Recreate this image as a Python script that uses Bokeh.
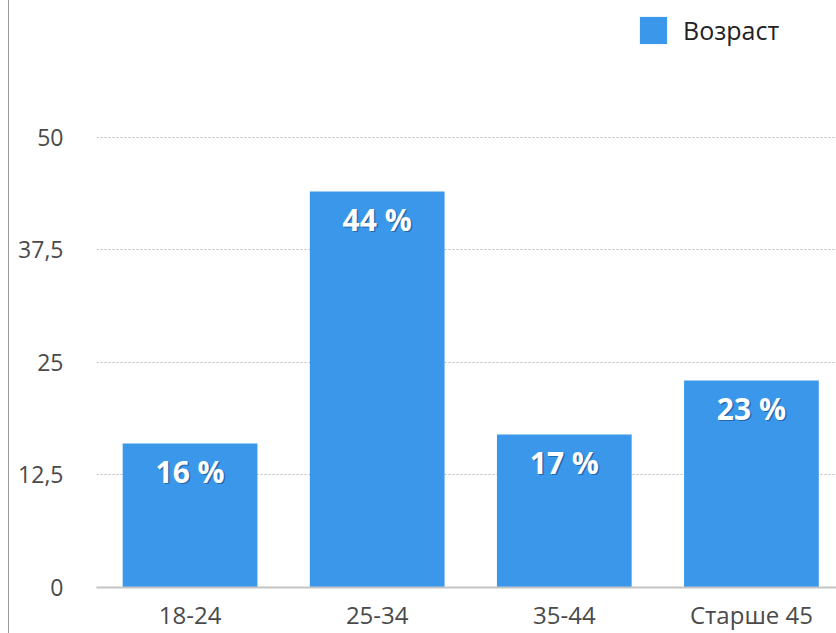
from bokeh.plotting import figure
from bokeh.models import Range1d, FixedTicker, Legend, LegendItem, ColumnDataSource
from bokeh.core.properties import value
from bokeh.embed import file_html
from bokeh.resources import INLINE

categories = ["18-24", "25-34", "35-44", "Старше 45"]
values = [16, 44, 17, 23]
value_labels = ["16 %", "44 %", "17 %", "23 %"]
y_ticks = [0, 12.5, 25, 37.5, 50]
y_tick_labels = ["0", "12,5", "25", "37,5", "50"]
series_name = "Возраст"

FONT = "Open Sans"
xs = list(range(len(categories)))
src = ColumnDataSource(dict(x=xs, top=values, lab=value_labels))

p = figure(width=828, height=633, output_backend="svg", toolbar_location=None,
           x_range=Range1d(-0.5, 3.46), y_range=Range1d(0, 64.33),
           min_border_left=87, min_border_right=0, min_border_top=8, min_border_bottom=46)
p.outline_line_color = None
p.background_fill_color = "white"
p.border_fill_color = "white"
p.styles = {"border-left": "1px solid #9a9a9a", "margin-left": "8px"}

bars = p.vbar(x="x", top="top", width=0.72, bottom=0, source=src,
              fill_color="#3a97ea", line_color=None)

p.text(x="x", y="top", text="lab", source=src, x_offset=1.5, y_offset=29.5,
       text_align="center", text_baseline="middle", text_color="#0a2a5a", text_alpha=0.45,
       text_font=value(FONT), text_font_size="30px", text_font_style="bold")
p.text(x="x", y="top", text="lab", source=src, y_offset=28,
       text_align="center", text_baseline="middle", text_color="white",
       text_font=value(FONT), text_font_size="30px", text_font_style="bold")

p.xgrid.grid_line_color = None
p.ygrid.ticker = FixedTicker(ticks=y_ticks)
p.ygrid.grid_line_color = "#bdbdbd"
p.ygrid.grid_line_dash = "2 2"

p.yaxis.ticker = FixedTicker(ticks=y_ticks)
p.yaxis.major_label_overrides = {t: l for t, l in zip(y_ticks, y_tick_labels)}
p.yaxis.axis_line_color = None
p.yaxis.major_tick_line_color = None
p.yaxis.minor_tick_line_color = None
p.yaxis.major_tick_out = 0
p.yaxis.major_tick_in = 0
p.yaxis.major_label_standoff = 33
p.yaxis.major_label_text_font = FONT
p.yaxis.major_label_text_font_size = "23px"
p.yaxis.major_label_text_color = "#4a4a4a"

p.xaxis.ticker = FixedTicker(ticks=xs)
p.xaxis.major_label_overrides = {x: c for x, c in zip(xs, categories)}
p.xaxis.axis_line_color = "#c4c4c4"
p.xaxis.axis_line_width = 2
p.xaxis.major_tick_line_color = None
p.xaxis.minor_tick_line_color = None
p.xaxis.major_tick_out = 0
p.xaxis.major_tick_in = 0
p.xaxis.major_label_standoff = 10
p.xaxis.major_label_text_font = FONT
p.xaxis.major_label_text_font_size = "24px"
p.xaxis.major_label_text_color = "#4a4a4a"

legend = Legend(items=[LegendItem(label=series_name, renderers=[bars])],
                location=(540, 540), orientation="vertical",
                glyph_width=34, glyph_height=34, label_height=34,
                label_standoff=13, padding=0, margin=0, spacing=0,
                border_line_color=None, background_fill_alpha=0,
                label_text_font=FONT, label_text_font_size="25px",
                label_text_color="#222222")
p.add_layout(legend, "center")

open("out.html", "w").write(file_html(p, INLINE))
